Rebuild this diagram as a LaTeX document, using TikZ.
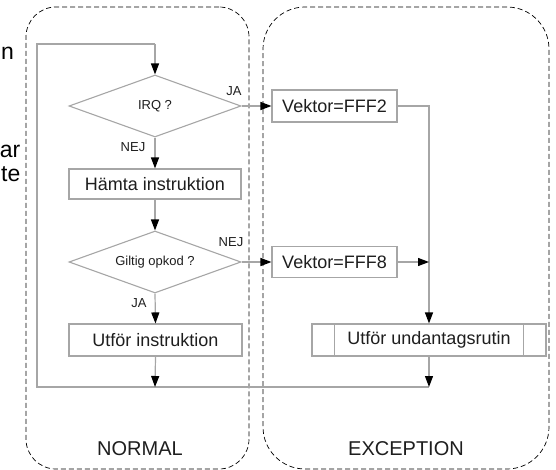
\documentclass[tikz,border=0pt]{standalone}
\usepackage{fontspec}
\setmainfont{Liberation Sans}
\usetikzlibrary{arrows.meta,shapes.geometric}
\definecolor{lg}{HTML}{A6A6A6}
\definecolor{tx}{HTML}{1E1E1E}
\begin{document}
\begin{tikzpicture}[x=1pt,y=-1pt,
  flow/.style={draw=lg,line width=1.2pt},
  arr/.style={flow,-{Triangle[length=11pt,width=8pt,color=black]}},
  box/.style={draw=lg,line width=1.1pt,fill=white,text=tx,font=\fontsize{18}{20}\selectfont,inner sep=0pt},
  dec/.style={diamond,draw=lg,line width=1.1pt,fill=white,text=tx,font=\fontsize{13}{15}\selectfont,inner sep=0pt,minimum width=172pt,minimum height=62pt,aspect=2.77},
  lab/.style={text=tx,font=\fontsize{13}{15}\selectfont,inner sep=0pt},
  zone/.style={draw=black,line width=0.7pt,dash pattern=on 5pt off 3pt,inner sep=0pt},
  zlab/.style={text=tx,font=\fontsize{20}{22}\selectfont,inner sep=0pt},
  frag/.style={text=black,font=\fontsize{23}{25}\selectfont,inner sep=0pt,anchor=base east}]
\useasboundingbox (0,0) rectangle (556,470);
\clip (0,0) rectangle (556,470);
% cut-off text at the left edge
\node[frag] (f1) at (14,60) {n};
\node[frag] (f2) at (20.5,158) {ar};
\node[frag] (f3) at (20.5,182) {te};
% zones
\node[zone,rounded corners=30pt,minimum width=223pt,minimum height=462pt] (normal) at (137.5,238) {};
\node[zone,rounded corners=42pt,minimum width=286pt,minimum height=462pt] (exception) at (406,238) {};
\node[zlab] (normallab) at (140,449) {NORMAL};
\node[zlab] (exclab) at (406,449) {EXCEPTION};
% nodes
\node[dec] (irq) at (155,106) {IRQ ?};
\node[box,minimum width=172pt,minimum height=30pt] (hamta) at (155,184) {Hämta instruktion};
\node[dec] (giltig) at (155,262) {Giltig opkod ?};
\node[box,minimum width=173pt,minimum height=32pt] (utfor) at (155.5,340) {Utför instruktion};
\node[box,minimum width=125pt,minimum height=32pt] (v2) at (334.5,106) {Vektor=FFF2};
\node[box,minimum width=125pt,minimum height=31pt] (v8) at (334.5,262) {Vektor=FFF8};
\node[box,minimum width=234pt,minimum height=32pt] (exc) at (429,340) {Utför undantagsrutin};
\draw[draw=lg,line width=1.1pt] ([xshift=23pt]exc.north west) -- ([xshift=23pt]exc.south west);
\draw[draw=lg,line width=1.1pt] ([xshift=-23pt]exc.north east) -- ([xshift=-23pt]exc.south east);
% coordinates
\coordinate (jR) at (429,387);
\coordinate (jM) at (155,387);
\coordinate (bl) at (37,387);
\coordinate (tl) at (37,44);
\coordinate (tm) at (155,44);
\coordinate (v8j) at (429,262);
% connectors
\draw[flow] (jR) -- (bl) -- (tl) -- (tm);
\draw[arr] (tm) -- (irq.north);
\draw[arr] (irq.south) -- (hamta.north);
\draw[arr] (hamta.south) -- (giltig.north);
\draw[arr] (giltig.south) -- (utfor.north);
\draw[arr] (utfor.south) -- (jM);
\draw[arr] (irq.east) -- (v2.west);
\draw[arr] (giltig.east) -- (v8.west);
\draw[arr] (v2.east) -| (exc.north);
\draw[arr] (v8.east) -- (v8j);
\draw[arr] (exc.south) -- (jR);
% labels
\node[lab] (ja1) at (234,91) {JA};
\node[lab] (nej1) at (133,147) {NEJ};
\node[lab] (nej2) at (231,242) {NEJ};
\node[lab] (ja2) at (139,303) {JA};
\end{tikzpicture}
\end{document}
